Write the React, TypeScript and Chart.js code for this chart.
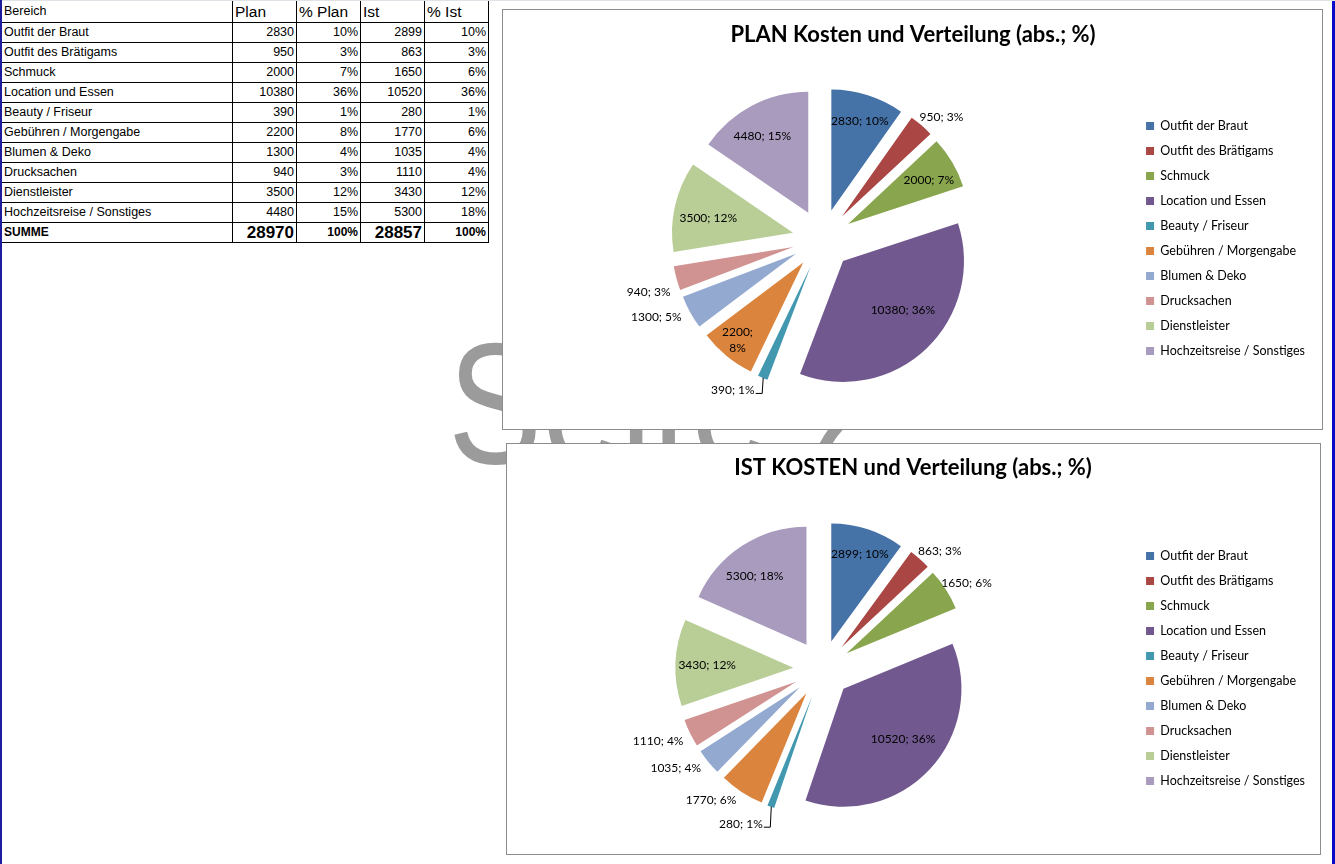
import React, { useEffect, useRef } from "react";
import { Chart, registerables } from "chart.js";

Chart.register(...registerables);

// ---------- DATA ----------
const categories = [
  "Outfit der Braut",
  "Outfit des Brätigams",
  "Schmuck",
  "Location und Essen",
  "Beauty / Friseur",
  "Gebühren / Morgengabe",
  "Blumen & Deko",
  "Drucksachen",
  "Dienstleister",
  "Hochzeitsreise / Sonstiges",
];
const planValues = [2830, 950, 2000, 10380, 390, 2200, 1300, 940, 3500, 4480];
const planTablePct = [10, 3, 7, 36, 1, 8, 4, 3, 12, 15];
const planChartPct = [10, 3, 7, 36, 1, 8, 5, 3, 12, 15];
const istValues = [2899, 863, 1650, 10520, 280, 1770, 1035, 1110, 3430, 5300];
const istTablePct = [10, 3, 6, 36, 1, 6, 4, 4, 12, 18];
const istChartPct = [10, 3, 6, 36, 1, 6, 4, 4, 12, 18];
const planSum = 28970;
const istSum = 28857;
const tableHeader = ["Bereich", "Plan", "% Plan", "Ist", "% Ist"];
const sumLabel = "SUMME";
const planTitle = "PLAN Kosten und Verteilung (abs.; %)";
const istTitle = "IST KOSTEN und Verteilung (abs.; %)";
const pageLabel = "Seite 2";

// ---------- STYLE ----------
const sliceColors = [
  "#4572A7",
  "#AA4643",
  "#89A54E",
  "#71588F",
  "#4198AF",
  "#DB843D",
  "#93A9CF",
  "#D19392",
  "#B9CD96",
  "#A99BBD",
];
// label placement per slice: in / in2 (two lines) / out / leader
const planLabelMode = ["in", "out", "in", "in", "leader", "in2", "out", "out", "in", "in"];
const planLabelFactor = [0.78, 1.04, 0.76, 0.64, 1, 0.84, 1.08, 1.08, 0.71, 0.74];
const planLabelAngle = [0, -3, 2, -7, 0, 1, 0, -5, -3, -3];
const istLabelMode = ["in", "out", "out", "in", "leader", "out", "out", "out", "in", "in"];
const istLabelFactor = [0.78, 1.04, 1.0, 0.66, 1, 1.08, 1.08, 1.08, 0.73, 0.73];
const istLabelAngle = [0, -3, -4, -3, 0, 0, 0, -2, -1, -4];

const LABEL_FONT = "12px Lato, 'Open Sans', sans-serif";
const FONT_FAMILY = "Lato, 'Open Sans', sans-serif";

function explodePlugin(dist: number) {
  return {
    id: "explode",
    afterDatasetUpdate(chart: any, args: any) {
      const meta = args.meta;
      meta.data.forEach((arc: any) => {
        const mid = (arc.startAngle + arc.endAngle) / 2;
        arc.x += Math.cos(mid) * dist;
        arc.y += Math.sin(mid) * dist;
      });
    },
  };
}

function labelPlugin(pct: number[], modes: string[], factors: number[], angles: number[], leaderLen: number) {
  return {
    id: "sliceLabels",
    afterDatasetsDraw(chart: any) {
      const ctx = chart.ctx;
      const meta = chart.getDatasetMeta(0);
      const values = chart.data.datasets[0].data as number[];
      ctx.save();
      ctx.font = LABEL_FONT;
      ctx.fillStyle = "#000";
      ctx.textBaseline = "middle";
      meta.data.forEach((arc: any, i: number) => {
        const bis = (arc.startAngle + arc.endAngle) / 2;
        const mid = bis + (angles[i] * Math.PI) / 180;
        const c = Math.cos(mid);
        const s = Math.sin(mid);
        const R = arc.outerRadius;
        const text = `${values[i]}; ${pct[i]}%`;
        const mode = modes[i];
        const f = factors[i];
        if (mode === "in") {
          ctx.textAlign = "center";
          ctx.fillText(text, arc.x + c * R * f, arc.y + s * R * f);
        } else if (mode === "in2") {
          ctx.textAlign = "center";
          const px = arc.x + c * R * f;
          const py = arc.y + s * R * f;
          ctx.fillText(`${values[i]};`, px, py - 8);
          ctx.fillText(`${pct[i]}%`, px, py + 8);
        } else if (mode === "out") {
          const px = arc.x + c * R * f;
          const py = arc.y + s * R * f;
          ctx.textAlign = c >= 0 ? "left" : "right";
          ctx.fillText(text, px, py);
        } else {
          const px = arc.x + Math.cos(bis) * R;
          const py = arc.y + Math.sin(bis) * R;
          ctx.strokeStyle = "#000";
          ctx.lineWidth = 1;
          ctx.beginPath();
          ctx.moveTo(px + 0.5, py);
          ctx.lineTo(px - 0.5, py + leaderLen + 0.5);
          ctx.lineTo(px - 7, py + leaderLen + 0.5);
          ctx.stroke();
          ctx.textAlign = "right";
          ctx.fillText(text, px - 8, py + leaderLen - 3);
        }
      });
      ctx.restore();
    },
  };
}

type PieProps = {
  left: number;
  top: number;
  width: number;
  height: number;
  title: string;
  values: number[];
  pct: number[];
  modes: string[];
  factors: number[];
  angles: number[];
  leaderLen: number;
  radius: number;
  explode: number;
  titlePadTop: number;
  titlePadBottom: number;
  padLeft: number;
  padRight: number;
  legendTitlePad: number;
};

function PieBox(p: PieProps) {
  const ref = useRef<HTMLCanvasElement>(null);
  useEffect(() => {
    const chart = new Chart(ref.current as HTMLCanvasElement, {
      type: "pie",
      data: {
        labels: categories,
        datasets: [
          {
            data: p.values,
            backgroundColor: sliceColors,
            borderWidth: 0,
            radius: p.radius,
          } as any,
        ],
      },
      options: {
        animation: false,
        responsive: false,
        events: [],
        layout: { padding: { left: p.padLeft, right: p.padRight, top: 0, bottom: 0 } },
        plugins: {
          title: {
            display: true,
            text: p.title,
            color: "#000",
            font: { family: FONT_FAMILY, size: 22, weight: "bold" },
            padding: { top: p.titlePadTop, bottom: p.titlePadBottom },
          },
          legend: {
            position: "right",
            title: {
              display: true,
              text: " ",
              font: { family: FONT_FAMILY, size: 12 },
              padding: p.legendTitlePad,
            },
            labels: {
              boxWidth: 8,
              boxHeight: 8,
              padding: 12.5,
              color: "#000",
              font: { family: FONT_FAMILY, size: 12.5 },
            },
          },
          tooltip: { enabled: false },
        },
      } as any,
      plugins: [explodePlugin(p.explode), labelPlugin(p.pct, p.modes, p.factors, p.angles, p.leaderLen)],
    });
    return () => chart.destroy();
  }, []);
  return (
    <div
      style={{
        position: "absolute",
        left: p.left,
        top: p.top,
        width: p.width,
        height: p.height,
        border: "1px solid #8c8c8c",
        background: "#fff",
        zIndex: 2,
      }}
    >
      <canvas ref={ref} width={p.width} height={p.height} style={{ display: "block" }} />
    </div>
  );
}

const cellBase: React.CSSProperties = {
  border: "1px solid #000",
  padding: "0 2px",
  height: 19,
  whiteSpace: "nowrap",
  overflow: "hidden",
  fontFamily: "'Liberation Sans', Arial, sans-serif",
  fontSize: 12.5,
  lineHeight: "19px",
  color: "#000",
};

function DataTable() {
  const colW = [231, 64, 64, 64, 64];
  return (
    <table
      style={{
        position: "absolute",
        left: 1,
        top: 1,
        borderCollapse: "collapse",
        tableLayout: "fixed",
        width: colW.reduce((a, b) => a + b, 0),
        background: "#fff",
        zIndex: 1,
      }}
    >
      <colgroup>
        {colW.map((w, i) => (
          <col key={i} style={{ width: w }} />
        ))}
      </colgroup>
      <tbody>
        <tr>
          {tableHeader.map((h, i) => (
            <td
              key={i}
              style={{
                ...cellBase,
                borderTop: "none",
                height: 20,
                lineHeight: "21px",
                fontSize: i === 0 ? 12.5 : 15.5,
                textAlign: "left",
              }}
            >
              {h}
            </td>
          ))}
        </tr>
        {categories.map((c, i) => (
          <tr key={c}>
            <td style={{ ...cellBase, textAlign: "left" }}>{c}</td>
            <td style={{ ...cellBase, textAlign: "right" }}>{planValues[i]}</td>
            <td style={{ ...cellBase, textAlign: "right" }}>{planTablePct[i]}%</td>
            <td style={{ ...cellBase, textAlign: "right" }}>{istValues[i]}</td>
            <td style={{ ...cellBase, textAlign: "right" }}>{istTablePct[i]}%</td>
          </tr>
        ))}
        <tr>
          <td style={{ ...cellBase, fontWeight: "bold", fontSize: 12 }}>{sumLabel}</td>
          <td style={{ ...cellBase, fontWeight: "bold", fontSize: 17, textAlign: "right" }}>{planSum}</td>
          <td style={{ ...cellBase, fontWeight: "bold", fontSize: 12, textAlign: "right" }}>100%</td>
          <td style={{ ...cellBase, fontWeight: "bold", fontSize: 17, textAlign: "right" }}>{istSum}</td>
          <td style={{ ...cellBase, fontWeight: "bold", fontSize: 12, textAlign: "right" }}>100%</td>
        </tr>
      </tbody>
    </table>
  );
}

export default function App() {
  return (
    <div
      style={{
        position: "fixed",
        left: 0,
        top: 0,
        width: 1335,
        height: 864,
        background: "#fff",
        overflow: "hidden",
      }}
    >
      <div style={{ position: "absolute", left: 0, top: 0, width: 1335, height: 1, background: "#dfe3e8" }} />
      <DataTable />
      <div
        style={{
          position: "absolute",
          left: 448,
          top: 317,
          fontFamily: "'Liberation Sans', Arial, sans-serif",
          fontSize: 172,
          lineHeight: 1,
          color: "#9b9b9b",
          whiteSpace: "nowrap",
          zIndex: 0,
          transform: "scaleX(0.82)",
          transformOrigin: "0 0",
        }}
      >
        {pageLabel}
      </div>
      <PieBox
        left={502}
        top={9}
        width={819}
        height={419}
        title={planTitle}
        values={planValues}
        pct={planChartPct}
        modes={planLabelMode}
        factors={planLabelFactor}
        angles={planLabelAngle}
        leaderLen={15}
        radius={121}
        explode={30}
        titlePadTop={12}
        titlePadBottom={1}
        padLeft={8}
        padRight={7}
        legendTitlePad={11.8}
      />
      <PieBox
        left={506}
        top={443}
        width={813}
        height={410}
        title={istTitle}
        values={istValues}
        pct={istChartPct}
        modes={istLabelMode}
        factors={istLabelFactor}
        angles={istLabelAngle}
        leaderLen={20}
        radius={118}
        explode={29}
        titlePadTop={11}
        titlePadBottom={2.6}
        padLeft={4}
        padRight={5}
        legendTitlePad={12.3}
      />
      <div style={{ position: "absolute", left: 0, top: 0, width: 2, height: 864, background: "#1c1c9c", zIndex: 5 }} />
      <div style={{ position: "absolute", left: 1332, top: 1, width: 3, height: 863, background: "#0808c8", zIndex: 5 }} />
    </div>
  );
}
